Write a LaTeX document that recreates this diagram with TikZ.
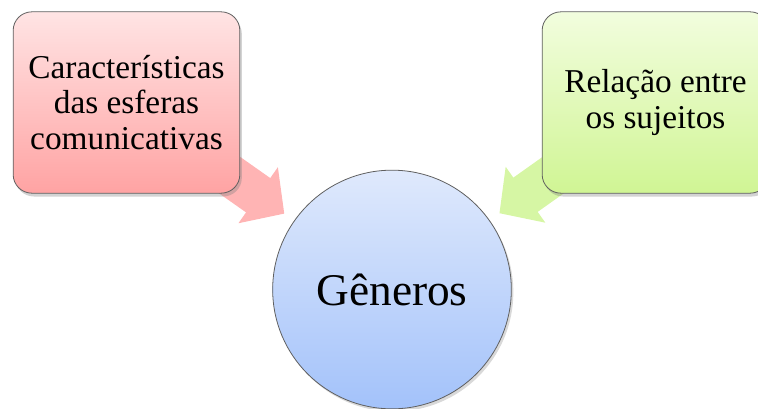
\documentclass[tikz,border=0pt]{standalone}
\usepackage{fontspec}
\setmainfont{Liberation Serif}
\usetikzlibrary{arrows.meta,shadows,backgrounds}
\tikzset{
  box/.style={
    rectangle,
    rounded corners=14pt,
    draw=edgegray,
    line width=0.6pt,
    minimum width=170pt,
    minimum height=136pt,
    align=center,
    font=\fontsize{25}{26.5}\selectfont,
    drop shadow={opacity=0.35,shadow xshift=1.5pt,shadow yshift=-2.5pt}
  },
  box-red/.style={box, top color=redtop, bottom color=redbottom},
  box-green/.style={box, top color=greentop, bottom color=greenbottom},
  circle-blue/.style={
    circle,
    draw=edgegray,
    line width=0.6pt,
    minimum size=179pt,
    inner sep=0pt,
    top color=bluetop,
    bottom color=bluebottom,
    font=\fontsize{34}{36}\selectfont,
    drop shadow={opacity=0.3,shadow xshift=1.5pt,shadow yshift=-2pt}
  },
  flow/.style={line width=31.5pt, shorten >=9pt, -{Triangle[width=50pt,length=24pt]}},
  flow-red/.style={flow, draw=redflow},
  flow-green/.style={flow, draw=greenflow}
}
\definecolor{edgegray}{RGB}{95,95,95}
\definecolor{redtop}{RGB}{255,228,228}
\definecolor{redbottom}{RGB}{255,163,163}
\definecolor{greentop}{RGB}{242,253,222}
\definecolor{greenbottom}{RGB}{208,245,148}
\definecolor{bluetop}{RGB}{223,233,252}
\definecolor{bluebottom}{RGB}{163,194,250}
\definecolor{redflow}{RGB}{255,180,180}
\definecolor{greenflow}{RGB}{214,246,164}

\begin{document}
\begin{tikzpicture}[x=0.75pt,y=-0.75pt]
  \useasboundingbox (0,0) rectangle (758,408);
  \clip (0,0) rectangle (758,408);
  % the three shapes
  \node[box-red] (feat) at (126.5,102.5) {Características\\das esferas\\comunicativas};
  \node[box-green] (rel) at (655.5,102.5) {Relação entre\\os sujeitos};
  \node[circle-blue] (gen) at (392,289.5) {Gêneros};
  % arrows behind them
  \begin{scope}[on background layer]
    \draw[flow-red] (feat.center) -- (gen);
    \draw[flow-green] (rel.center) -- (gen);
  \end{scope}
\end{tikzpicture}
\end{document}
